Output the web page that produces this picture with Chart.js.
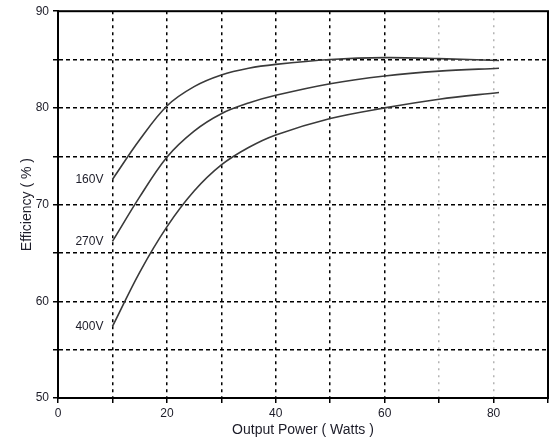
<!DOCTYPE html>
<html>
<head>
<meta charset="utf-8">
<script src="https://cdn.jsdelivr.net/npm/chart.js@4.4.0/dist/chart.umd.min.js"></script>
<style>
    html, body { margin: 0; padding: 0; background: #fff; }
    canvas { display: block; }
</style>
</head>
<body>
<canvas id="efficiencyChart" width="551" height="442"></canvas>
<script>
// values
const powerW = [10, 15, 20, 25, 30, 35, 40, 50, 60, 70, 81];
const eff160V = [72.6, 76.7, 80.2, 82.2, 83.4, 84.1, 84.5, 85.0, 85.2, 85.1, 84.9];
const eff270V = [66.2, 70.8, 74.9, 77.6, 79.4, 80.5, 81.3, 82.5, 83.3, 83.8, 84.1];
const eff400V = [57.4, 63.0, 67.7, 71.4, 74.1, 75.9, 77.2, 78.9, 80.0, 80.9, 81.6];
const seriesNames = ['160V', '270V', '400V'];
const xTickLabels = [0, 20, 40, 60, 80];
const yTickLabels = [50, 60, 70, 80, 90];

const textColor = '#1c1c28';
const fontFamily = '"Liberation Sans", Arial, sans-serif';

document.addEventListener('DOMContentLoaded', function () {
    const ctx = document.getElementById('efficiencyChart').getContext('2d');

    const makeSet = (name, values) => ({
        label: name,
        data: powerW.map((x, i) => ({ x: x, y: values[i] })),
        borderColor: '#3a3a3a',
        borderWidth: 1.6,
        pointRadius: 0,
        fill: false,
        tension: 0.35
    });

    // box round the plot area
    const frame = {
        id: 'frame',
        afterDraw(chart) {
            const a = chart.chartArea;
            const c = chart.ctx;
            c.save();
            c.strokeStyle = '#000';
            c.lineWidth = 2;
            c.strokeRect(a.left, a.top, a.right - a.left, a.bottom - a.top);
            c.restore();
        }
    };

    // voltage names beside the start of each curve
    const curveNames = {
        id: 'curveNames',
        afterDatasetsDraw(chart) {
            const c = chart.ctx;
            const xs = chart.scales.x;
            const ys = chart.scales.y;
            c.save();
            c.font = '12px ' + fontFamily;
            c.fillStyle = textColor;
            c.textAlign = 'right';
            c.textBaseline = 'middle';
            chart.data.datasets.forEach(ds => {
                const p = ds.data[0];
                c.fillText(ds.label, xs.getPixelForValue(p.x) - 9, ys.getPixelForValue(p.y));
            });
            c.restore();
        }
    };

    new Chart(ctx, {
        type: 'line',
        data: {
            datasets: [
                makeSet(seriesNames[0], eff160V),
                makeSet(seriesNames[1], eff270V),
                makeSet(seriesNames[2], eff400V)
            ]
        },
        options: {
            responsive: false,
            animation: false,
            devicePixelRatio: 1,
            layout: { padding: { top: 5, right: 3, left: 0, bottom: 0 } },
            plugins: {
                legend: { display: false },
                tooltip: { enabled: false }
            },
            scales: {
                x: {
                    type: 'linear',
                    min: 0,
                    max: 90,
                    afterFit: s => { s.height = 44; },
                    ticks: {
                        stepSize: 10,
                        padding: 3,
                        maxRotation: 0,
                        autoSkip: false,
                        color: textColor,
                        font: { family: fontFamily, size: 12 },
                        callback: v => xTickLabels.includes(v) ? v : ''
                    },
                    grid: {
                        color: c => (c.tick.value === 0 || c.tick.value === 90) ? 'rgba(0,0,0,0)'
                            : (c.tick.value >= 70 ? '#b4b4b4' : '#000'),
                        lineWidth: 1.5,
                        tickColor: '#000',
                        tickLength: 5,
                        tickWidth: 1.5
                    },
                    border: {
                        color: '#000',
                        width: 2,
                        dash: c => c.tick && c.tick.value >= 70 ? [2, 5] : [3, 4]
                    },
                    title: {
                        display: true,
                        text: 'Output Power ( Watts )',
                        color: textColor,
                        font: { family: fontFamily, size: 14 },
                        padding: { top: 0, bottom: 3 }
                    }
                },
                y: {
                    min: 50,
                    max: 90,
                    afterFit: s => { s.width = 58; },
                    ticks: {
                        stepSize: 5,
                        padding: 4,
                        autoSkip: false,
                        color: textColor,
                        font: { family: fontFamily, size: 12 },
                        callback: v => yTickLabels.includes(v) ? v : ''
                    },
                    grid: {
                        color: c => (c.tick.value === 50 || c.tick.value === 90) ? 'rgba(0,0,0,0)' : '#000',
                        lineWidth: 1.5,
                        tickColor: '#000',
                        tickLength: 5,
                        tickWidth: 1.5
                    },
                    border: {
                        color: '#000',
                        width: 2,
                        dash: [4, 3]
                    },
                    title: {
                        display: true,
                        text: 'Efficiency ( % )',
                        color: textColor,
                        font: { family: fontFamily, size: 14 },
                        padding: { top: 19, bottom: 0 }
                    }
                }
            }
        },
        plugins: [frame, curveNames]
    });
});
</script>
</body>
</html>
